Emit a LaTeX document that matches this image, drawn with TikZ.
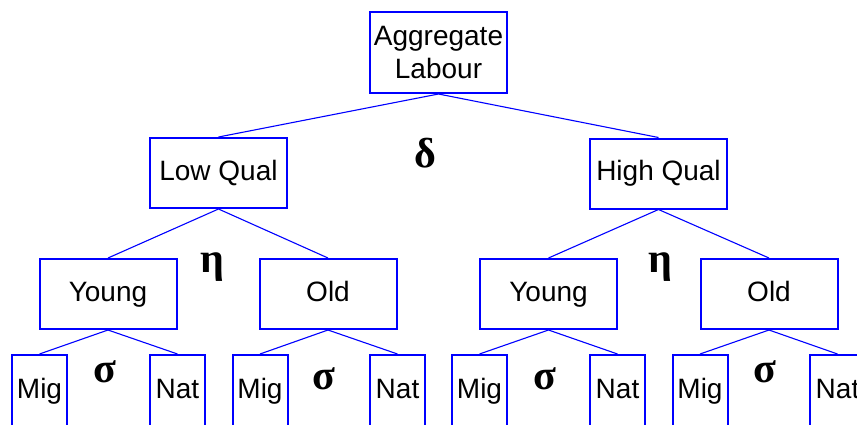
\documentclass[tikz,border=0pt]{standalone}
\usepackage{fontspec}
\setmainfont{Liberation Sans}
\newfontfamily\grk{Liberation Serif}
\definecolor{bl}{RGB}{0,0,255}
\begin{document}
\begin{tikzpicture}[x=1pt,y=-1pt,
  box/.style={draw=bl,line width=2pt,inner sep=0pt,minimum width=137pt,minimum height=70pt,font=\fontsize{28}{34}\selectfont,align=center,text height=20pt,text depth=6pt},
  leaf/.style={draw=bl,line width=2pt,inner sep=0pt,minimum width=55pt,minimum height=72pt,anchor=north,font=\fontsize{28}{34}\selectfont,text height=20pt,text depth=6pt},
  con/.style={draw=bl,line width=1.1pt},
  gk/.style={font=\grk\bfseries\fontsize{42}{42}\selectfont,inner sep=0pt}]
\useasboundingbox (0,0) rectangle (857,424);
\clip (0,0) rectangle (857,424);
\node[draw=bl,line width=2pt,inner sep=0pt,minimum width=137pt,minimum height=81pt,font=\fontsize{28}{34}\selectfont,align=center] (agg) at (438.5,52.5) {Aggregate\\Labour};
\node[box] (low) at (218.5,173) {Low Qual};
\node[box] (high) at (658.5,173.5) {High Qual};
\node[box] (yl) at (108,294) {Young};
\node[box] (ol) at (328,294) {Old};
\node[box] (yr) at (548.5,294) {Young};
\node[box] (or) at (769,294) {Old};
\node[leaf] (m1) at (39.5,354) {Mig};
\node[leaf] (n1) at (177.5,354) {Nat};
\node[leaf] (m2) at (260,354) {Mig};
\node[leaf] (n2) at (397.5,354) {Nat};
\node[leaf] (m3) at (479.5,354) {Mig};
\node[leaf] (n3) at (617.5,354) {Nat};
\node[leaf] (m4) at (700,354) {Mig};
\node[leaf] (n4) at (837.5,354) {Nat};
\draw[con] (agg.south) -- (low.north);
\draw[con] (agg.south) -- (high.north);
\draw[con] (low.south) -- (yl.north);
\draw[con] (low.south) -- (ol.north);
\draw[con] (high.south) -- (yr.north);
\draw[con] (high.south) -- (or.north);
\foreach \p/\a/\b in {yl/m1/n1,ol/m2/n2,yr/m3/n3,or/m4/n4}{
  \draw[con] (\p.south) -- (\a.north);
  \draw[con] (\p.south) -- (\b.north);
}
\node[gk] (d) at (425,153) {δ};
\node[gk] (e1) at (212,267) {η};
\node[gk] (e2) at (660,267) {η};
\node[gk] (s1) at (105,372) {σ};
\node[gk] (s2) at (324,379) {σ};
\node[gk] (s3) at (545,379) {σ};
\node[gk] (s4) at (765,372) {σ};
\end{tikzpicture}
\end{document}
